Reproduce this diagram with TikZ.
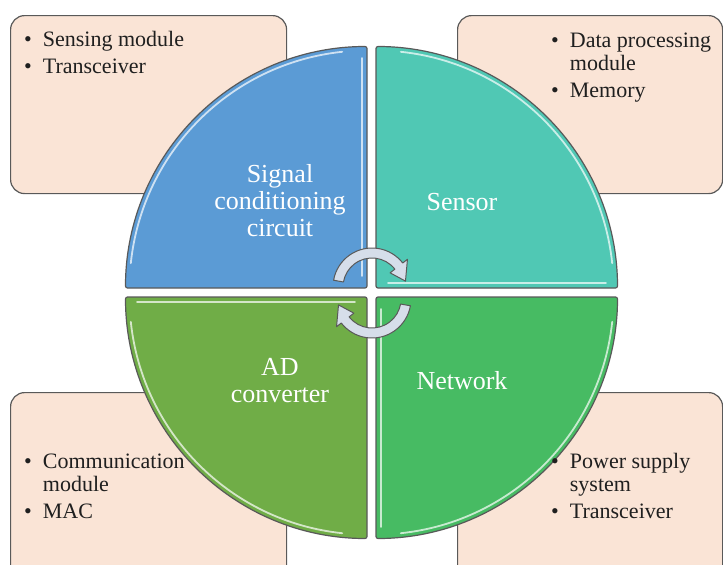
\documentclass[tikz,border=0pt]{standalone}
\usepackage{fontspec}
\setmainfont{Liberation Serif}
\definecolor{peach}{RGB}{250,228,214}
\definecolor{boxline}{RGB}{89,89,89}
\definecolor{qblue}{RGB}{91,155,213}
\definecolor{qteal}{RGB}{80,200,180}
\definecolor{qolive}{RGB}{112,173,71}
\definecolor{qgreen}{RGB}{71,187,99}
\definecolor{cyclefill}{RGB}{214,222,234}

\begin{document}
\begin{tikzpicture}[
  x=1pt, y=-1pt,
  infobox/.style = {draw=boxline, fill=peach, line width=1.2pt, rounded corners=14pt,
                    anchor=north west, inner sep=0pt},
  bullets/.style = {anchor=base west, inner sep=0pt, text=black!88,
                    font=\fontsize{22}{23}\selectfont},
  quarter/.style = {draw=boxline, line width=1.2pt, rounded corners=2pt},
  qlabel/.style = {text=white, align=center, inner sep=0pt,
                   font=\fontsize{26}{27}\selectfont},
  qshine/.style = {draw=white, line width=1.8pt, opacity=0.7, line cap=round},
  cyclearrow/.style = {draw=boxline, fill=cyclefill, line width=1pt, line join=round}
]
  \clip (0,0) rectangle (723,565);

  % info boxes behind the circle
  \node[infobox, minimum width=276pt, minimum height=178pt] (boxTL) at (10,15) {};
  \node[infobox, minimum width=265pt, minimum height=178pt] (boxTR) at (457,15) {};
  \node[infobox, minimum width=276pt, minimum height=200pt] (boxBL) at (10,392) {};
  \node[infobox, minimum width=265pt, minimum height=200pt] (boxBR) at (457,392) {};

  % four quarters of the circle
  \foreach \ang/\col in {180/qblue, 270/qteal, 0/qgreen, 90/qolive}{
    \begin{scope}[shift={(371.5,292.5)}, rotate=-\ang, shift={(4.5,4.5)}]
      \draw[quarter, fill=\col] (0,0) -- (241.5,0)
        arc[start angle=0, end angle=90, radius=241.5] -- cycle;
      \draw[qshine] (6:237.5) arc[start angle=6, end angle=84, radius=237.5];
      \draw[qshine] (5,12) -- (5,230);
    \end{scope}
  }

  \node[qlabel] (lblSignal) at (280,201) {Signal\\conditioning\\circuit};
  \node[qlabel] (lblSensor) at (462,202) {Sensor};
  \node[qlabel] (lblAD) at (280,381) {AD\\converter};
  \node[qlabel] (lblNetwork) at (462,381) {Network};

  % cycle arrows in the middle
  \foreach \rot in {0,180}{
    \begin{scope}[shift={(372,293)}, rotate=\rot, shift={(0,-6)}]
      \draw[cyclearrow] (190:39) arc[start angle=190, end angle=322, radius=39]
        -- (322:45) -- (350:34) -- (322:23) -- (322:29)
        arc[start angle=322, end angle=190, radius=29] -- cycle;
    \end{scope}
  }

  % bullet lists
  \node[bullets] (listTL) at (24,46) {\begin{tabular}[t]{@{}l@{\hspace{11pt}}l@{}}
    \textbullet & Sensing module\\[4pt]
    \textbullet & Transceiver
  \end{tabular}};
  \node[bullets] (listTR) at (551,47) {\begin{tabular}[t]{@{}l@{\hspace{11pt}}l@{}}
    \textbullet & Data processing\\
                & module\\[4pt]
    \textbullet & Memory
  \end{tabular}};
  \node[bullets] (listBL) at (24,468) {\begin{tabular}[t]{@{}l@{\hspace{11pt}}l@{}}
    \textbullet & Communication\\
                & module\\[4pt]
    \textbullet & MAC
  \end{tabular}};
  \node[bullets] (listBR) at (551,468) {\begin{tabular}[t]{@{}l@{\hspace{11pt}}l@{}}
    \textbullet & Power supply\\
                & system\\[4pt]
    \textbullet & Transceiver
  \end{tabular}};
\end{tikzpicture}
\end{document}
